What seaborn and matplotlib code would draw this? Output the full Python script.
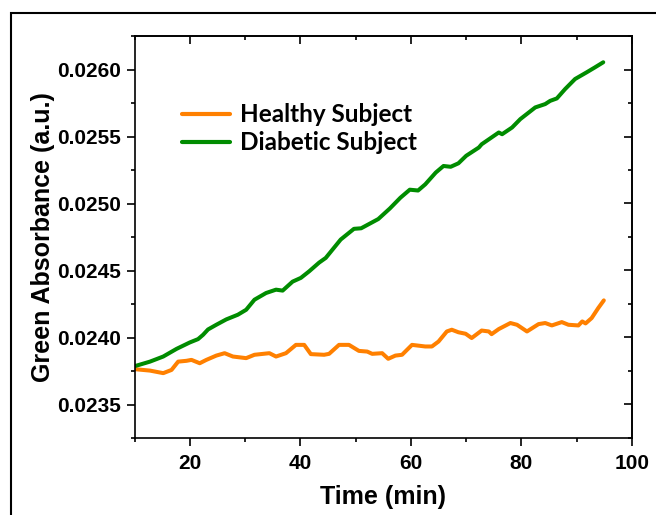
import matplotlib
matplotlib.use("Agg")
import matplotlib.pyplot as plt
import matplotlib.ticker as mticker
from matplotlib.patches import Rectangle
import seaborn as sns
import pandas as pd

# ---- data ----
healthy_time = [10.2, 12.8, 15.2, 16.7, 17.9, 19.4, 20.3, 21.8, 23.0, 24.8, 26.3, 27.8,
                30.2, 31.7, 34.4, 35.6, 37.4, 39.2, 40.7, 41.9, 44.3, 45.2, 47.0, 48.8,
                50.6, 52.1, 53.0, 54.8, 55.9, 57.2, 58.4, 60.2, 62.6, 63.8, 65.0, 66.5,
                67.4, 68.6, 69.9, 71.0, 72.8, 74.1, 74.6, 75.9, 78.0, 79.2, 81.0, 83.1,
                84.3, 85.5, 87.3, 88.5, 90.3, 91.0, 91.6, 92.7, 93.9, 94.9]
healthy_abs = [0.023763, 0.023753, 0.023734, 0.023758, 0.023820, 0.023826, 0.023833,
               0.023808, 0.023833, 0.023865, 0.023883, 0.023858, 0.023846, 0.023871,
               0.023883, 0.023858, 0.023883, 0.023945, 0.023945, 0.023876, 0.023871,
               0.023878, 0.023945, 0.023945, 0.023900, 0.023895, 0.023878, 0.023883,
               0.023841, 0.023865, 0.023871, 0.023945, 0.023933, 0.023933, 0.023970,
               0.024045, 0.024058, 0.024039, 0.024028, 0.023996, 0.024052, 0.024045,
               0.024025, 0.024063, 0.024108, 0.024095, 0.024045, 0.024100, 0.024108,
               0.024090, 0.024115, 0.024095, 0.024090, 0.024120, 0.024105, 0.024145,
               0.024220, 0.024277]

diabetic_time = [10.2, 12.8, 15.2, 17.6, 20.0, 21.5, 22.4, 23.3, 24.8, 26.6, 28.7, 30.2,
                 31.7, 33.8, 35.6, 36.8, 38.6, 40.1, 41.6, 43.4, 44.6, 47.3, 49.7, 51.0,
                 54.1, 56.2, 58.1, 59.8, 61.3, 62.6, 64.5, 65.9, 67.2, 68.6, 70.0, 72.3,
                 72.8, 75.9, 76.5, 78.3, 79.8, 82.5, 84.3, 85.2, 86.4, 87.9, 89.7, 91.8,
                 93.3, 94.8]
diabetic_abs = [0.023788, 0.023820, 0.023858, 0.023915, 0.023963, 0.023988, 0.024020,
                0.024060, 0.024095, 0.024135, 0.024170, 0.024207, 0.024282, 0.024332,
                0.024357, 0.024350, 0.024417, 0.024445, 0.024494, 0.024559, 0.024594,
                0.024731, 0.024811, 0.024815, 0.024884, 0.024963, 0.025043, 0.025103,
                0.025097, 0.025143, 0.025231, 0.025280, 0.025274, 0.025300, 0.025356,
                0.025418, 0.025442, 0.025530, 0.025517, 0.025567, 0.025630, 0.025717,
                0.025742, 0.025766, 0.025784, 0.025854, 0.025929, 0.025979, 0.026016,
                0.026054]

series_names = ["Healthy Subject", "Diabetic Subject"]
series_colors = ["#FF8000", "#008C00"]
x_major = [20, 40, 60, 80, 100]
y_major = [0.0235, 0.0240, 0.0245, 0.0250, 0.0255, 0.0260]

df = pd.concat([
    pd.DataFrame({"Time": healthy_time, "Abs": healthy_abs, "Subject": series_names[0]}),
    pd.DataFrame({"Time": diabetic_time, "Abs": diabetic_abs, "Subject": series_names[1]}),
], ignore_index=True)

sns.set_style("ticks")
plt.rcParams["font.family"] = ["Liberation Sans", "DejaVu Sans"]
plt.rcParams.update({"text.color": "black", "axes.labelcolor": "black",
                     "xtick.color": "black", "ytick.color": "black",
                     "axes.edgecolor": "black", "font.weight": "bold",
                     "axes.labelweight": "bold"})

fig = plt.figure(figsize=(6.56, 5.15), dpi=100)
ax = fig.add_axes([134.5 / 656, 1 - 438 / 515, (632 - 134.5) / 656, (438 - 36) / 515])

sns.lineplot(data=df, x="Time", y="Abs", hue="Subject", hue_order=series_names,
             palette=dict(zip(series_names, series_colors)), estimator=None,
             sort=False, linewidth=2.9, ax=ax)

ax.set_xlim(10, 100)
ax.set_ylim(0.02325, 0.02625)
ax.xaxis.set_major_locator(mticker.FixedLocator(x_major))
ax.xaxis.set_minor_locator(mticker.MultipleLocator(10))
ax.yaxis.set_major_locator(mticker.FixedLocator(y_major))
ax.yaxis.set_minor_locator(mticker.MultipleLocator(0.00025))
ax.yaxis.set_major_formatter(mticker.FormatStrFormatter("%.4f"))

for s in ax.spines.values():
    s.set_visible(True)
    s.set_linewidth(1.2)
    s.set_color("black")

ax.tick_params(which="both", direction="out", top=False, right=False, color="black", width=1.2)
ax.tick_params(which="major", length=5.5)
ax.tick_params(which="minor", length=3)
ax.tick_params(axis="y", which="major", pad=4, labelsize=15)
ax.tick_params(axis="x", which="major", pad=6, labelsize=15)

# inward ticks on top and right via secondary axes
sec_x = ax.secondary_xaxis("top")
sec_x.xaxis.set_major_locator(mticker.FixedLocator(x_major))
sec_x.xaxis.set_minor_locator(mticker.MultipleLocator(10))
sec_x.tick_params(which="both", direction="in", labeltop=False, color="black", width=1.2)
sec_x.tick_params(which="major", length=5.5)
sec_x.tick_params(which="minor", length=3)
sec_x.spines["top"].set_linewidth(1.2)
sec_y = ax.secondary_yaxis("right")
sec_y.yaxis.set_major_locator(mticker.FixedLocator(y_major))
sec_y.yaxis.set_minor_locator(mticker.MultipleLocator(0.00025))
sec_y.tick_params(which="both", direction="in", labelright=False, color="black", width=1.2)
sec_y.tick_params(which="major", length=5.5)
sec_y.tick_params(which="minor", length=3)
sec_y.spines["right"].set_linewidth(1.2)

ax.set_xlabel("Time (min)", fontsize=18, fontweight="bold", labelpad=9)
ax.set_ylabel("Green Absorbance (a.u.)", fontsize=18, fontweight="bold", labelpad=2)

leg = ax.legend(loc="upper left", bbox_to_anchor=(0.075, 0.857), frameon=False,
                handlelength=2.0, handletextpad=0.4, labelspacing=0.2, borderaxespad=0,
                prop={"family": ["Lato", "DejaVu Sans"], "weight": "bold", "size": 17.5})
for h in leg.get_lines():
    h.set_linewidth(3)

# outer frame around the figure (clipped on right / bottom)
fig.patches.append(Rectangle((10.5 / 656, -0.2), 2.0, 1.2 - 12.5 / 515, transform=fig.transFigure,
                             fill=False, edgecolor="black", linewidth=1.5, clip_on=False))

fig.savefig("out.png", dpi=100)
